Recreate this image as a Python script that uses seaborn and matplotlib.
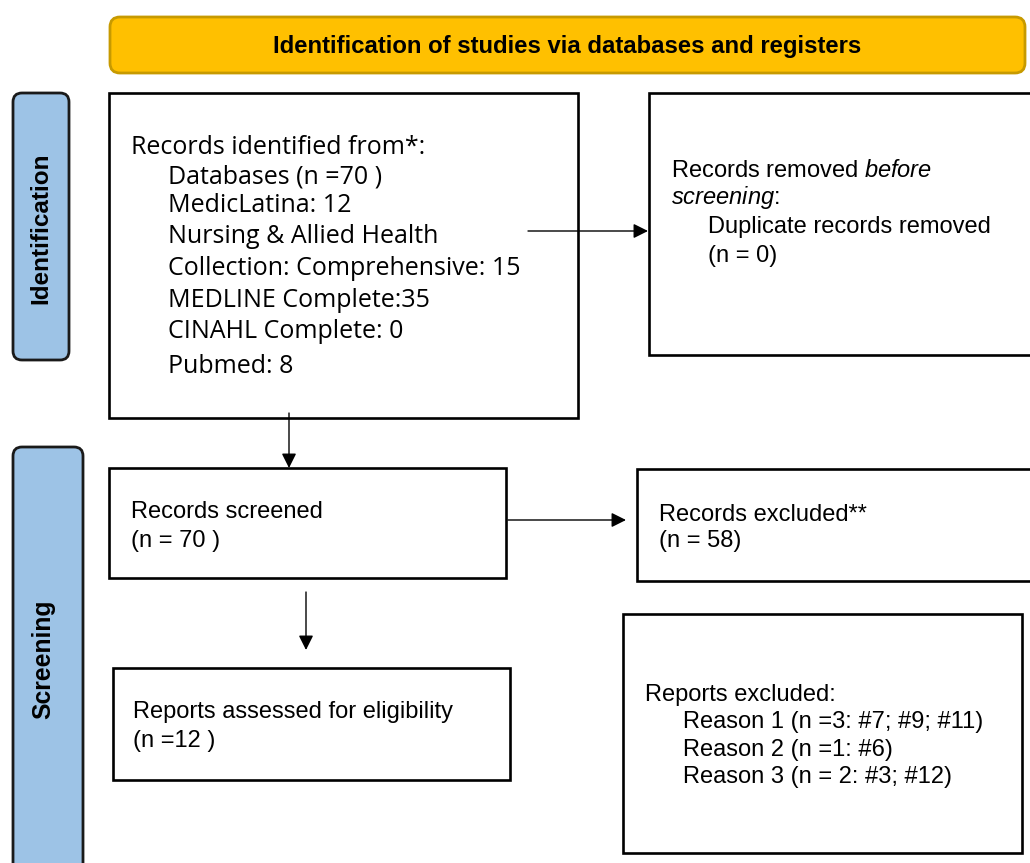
import matplotlib
matplotlib.use("Agg")
import matplotlib.pyplot as plt
from matplotlib.patches import FancyBboxPatch, Rectangle
import seaborn as sns

# ---------------- data ----------------
header_title = "Identification of studies via databases and registers"
stage_labels = ["Identification", "Screening"]

records_identified = 70
database_names = ["MedicLatina", "Nursing & Allied Health\nCollection: Comprehensive",
                  "MEDLINE Complete", "CINAHL Complete", "Pubmed"]
database_seps = [": ", ": ", ":", ": ", ": "]
database_counts = [12, 15, 35, 0, 8]

duplicates_removed = 0
records_screened = 70
records_excluded = 58
reports_assessed = 12
exclusion_reasons = ["Reason 1", "Reason 2", "Reason 3"]
exclusion_details = ["(n =3: #7; #9; #11)", "(n =1: #6)", "(n = 2: #3; #12)"]

# ---------------- style ----------------
sns.set_theme(style="white")
plt.rcParams["font.family"] = ["Liberation Sans", "DejaVu Sans"]
plt.rcParams["text.color"] = "black"
plt.rcParams["mathtext.fontset"] = "custom"
plt.rcParams["mathtext.rm"] = "Liberation Sans"
plt.rcParams["mathtext.it"] = "Liberation Sans:italic"

W, H = 1030, 863
fig = plt.figure(figsize=(W / 100, H / 100), dpi=100)
ax = fig.add_axes([0, 0, 1, 1])
ax.set_xlim(0, W)
ax.set_ylim(H, 0)
ax.axis("off")

FS = 17
BOX_LW = 1.9
GOLD = "#FFC000"
GOLD_EDGE = "#C79A00"
BLUE = "#9DC3E6"


def rbox(x0, y0, x1, y1, fc, ec, lw, r=10):
    p = FancyBboxPatch((x0, y0), x1 - x0, y1 - y0,
                       boxstyle=f"round,pad=0,rounding_size={r}",
                       fc=fc, ec=ec, lw=lw, zorder=2)
    ax.add_patch(p)


def sbox(x0, y0, x1, y1):
    ax.add_patch(Rectangle((x0, y0), x1 - x0, y1 - y0, fc="white",
                           ec="black", lw=BOX_LW, zorder=2))


def arrow(x0, y0, x1, y1):
    ax.annotate("", xy=(x1, y1), xytext=(x0, y0),
                arrowprops=dict(arrowstyle="-|>", color="black", lw=1.0,
                                mutation_scale=22, shrinkA=0, shrinkB=0),
                zorder=3)


# header
rbox(110, 17, 1025, 73, GOLD, GOLD_EDGE, 2.0, r=10)
ax.text(567, 53, header_title, ha="center", va="baseline",
        fontsize=17.2, fontweight="bold", zorder=4)

# stage side bars
rbox(13, 93, 69, 360, BLUE, "#1a1a1a", 2.0, r=9)
ax.text(41, 228, stage_labels[0], rotation=90, ha="center", va="center",
        fontsize=17.5, fontweight="bold", zorder=4)
rbox(13, 447, 83, 900, BLUE, "#1a1a1a", 2.0, r=9)
ax.text(43, 659, stage_labels[1], rotation=90, ha="center", va="center",
        fontsize=17.8, fontweight="bold", zorder=4)

# box 1: records identified
sbox(109, 93, 578, 418)
lines1 = [f"Records identified from*:", f"Databases (n ={records_identified} )"]
for name, sep, cnt in zip(database_names, database_seps, database_counts):
    parts = name.split("\n")
    lines1.extend(parts[:-1])
    lines1.append(f"{parts[-1]}{sep}{cnt}")
base1 = [154, 183, 212, 243, 275, 307, 338, 373]
for i, (ln, yb) in enumerate(zip(lines1, base1)):
    ax.text(131 if i == 0 else 168, yb, ln, ha="left", va="baseline",
            fontsize=18, family=["Open Sans", "DejaVu Sans"], zorder=4)

# box 2: records removed before screening
sbox(649, 93, 1045, 355)
ax.text(671, 177, r"Records removed $\it{before}$", ha="left", va="baseline",
        fontsize=FS, zorder=4)
ax.text(671, 204, r"$\it{screening}$:", ha="left", va="baseline",
        fontsize=FS, zorder=4)
ax.text(708, 233, "Duplicate records removed", ha="left", va="baseline",
        fontsize=FS, zorder=4)
ax.text(708, 262, f"(n = {duplicates_removed})", ha="left", va="baseline",
        fontsize=FS, zorder=4)
arrow(528, 231, 648, 231)

# box 3: records screened
sbox(109, 468, 506, 578)
ax.text(131, 518, "Records screened", ha="left", va="baseline", fontsize=FS, zorder=4)
ax.text(131, 547, f"(n = {records_screened} )", ha="left", va="baseline", fontsize=FS, zorder=4)
arrow(289, 413, 289, 468)

# box 4: records excluded
sbox(637, 469, 1045, 581)
ax.text(659, 521, "Records excluded**", ha="left", va="baseline", fontsize=FS, zorder=4)
ax.text(659, 547, f"(n = {records_excluded})", ha="left", va="baseline", fontsize=FS, zorder=4)
arrow(508, 520, 626, 520)

# box 5: reports assessed
sbox(113, 668, 510, 780)
ax.text(133, 718, "Reports assessed for eligibility", ha="left", va="baseline",
        fontsize=FS, zorder=4)
ax.text(133, 747, f"(n ={reports_assessed} )", ha="left", va="baseline",
        fontsize=FS, zorder=4)
arrow(306, 592, 306, 650)

# box 6: reports excluded
sbox(623, 614, 1022, 853)
ax.text(645, 701, "Reports excluded:", ha="left", va="baseline", fontsize=FS, zorder=4)
for i, (rs, dt) in enumerate(zip(exclusion_reasons, exclusion_details)):
    ax.text(683, 728 + i * 27.5, f"{rs} {dt}", ha="left", va="baseline",
            fontsize=FS, zorder=4)

fig.savefig("out.png", dpi=100, facecolor="white")
